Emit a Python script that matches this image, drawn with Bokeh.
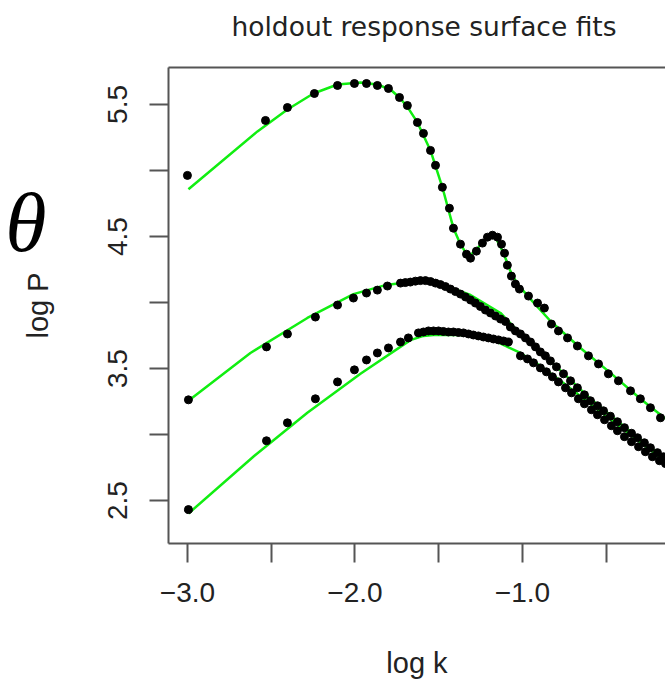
from bokeh.plotting import figure
from bokeh.models import FixedTicker, Range1d, LinearAxis, CustomJSTickFormatter
from bokeh.embed import file_html
from bokeh.resources import INLINE

title_text = "holdout response surface fits"
x_label = "log k"
y_label = "log P"
side_symbol = "θ"

x_major_ticks = [-3.0, -2.0, -1.0]
x_minor_ticks = [-2.5, -1.5, -0.5]
y_major_ticks = [2.5, 3.5, 4.5, 5.5]
y_minor_ticks = [3.0, 4.0, 5.0]

# series A (top) – points
A_x = [-3.000, -2.534, -2.403, -2.242, -2.104, -2.003, -1.931, -1.866, -1.800, -1.734,
       -1.687, -1.627, -1.591, -1.549, -1.519, -1.478, -1.436, -1.412, -1.370, -1.334,
       -1.310, -1.275, -1.239, -1.209, -1.179, -1.149, -1.125, -1.107, -1.090, -1.066,
       -1.042, -1.018, -0.964, -0.910, -0.869, -0.827, -0.785, -0.731, -0.672, -0.606,
       -0.546, -0.487, -0.427, -0.355, -0.296, -0.236, -0.176]
A_y = [4.963, 5.379, 5.477, 5.583, 5.644, 5.659, 5.659, 5.644, 5.621, 5.553,
       5.492, 5.364, 5.281, 5.152, 5.039, 4.873, 4.714, 4.563, 4.442, 4.366,
       4.336, 4.389, 4.450, 4.495, 4.510, 4.495, 4.442, 4.374, 4.283, 4.200,
       4.140, 4.102, 4.049, 3.996, 3.958, 3.837, 3.785, 3.732, 3.671, 3.596,
       3.535, 3.460, 3.407, 3.331, 3.271, 3.203, 3.127]
# series A – fitted surface
Afit_x = [-2.994, -2.582, -2.403, -2.248, -2.104, -1.967, -1.866, -1.788, -1.728, -1.681,
          -1.627, -1.549, -1.478, -1.412, -1.370, -1.322, -1.263, -1.203, -1.155, -1.113,
          -1.072, -1.030, -0.952, -0.833, -0.654, -0.475, -0.296, -0.146]
Afit_y = [4.858, 5.296, 5.462, 5.583, 5.651, 5.666, 5.651, 5.613, 5.545, 5.470,
          5.364, 5.152, 4.873, 4.563, 4.442, 4.344, 4.419, 4.510, 4.480, 4.374,
          4.238, 4.140, 4.026, 3.860, 3.656, 3.467, 3.271, 3.120]

# series B (middle) – points
B_x = [-2.994, -2.528, -2.403, -2.236, -2.104, -2.009, -1.931, -1.866, -1.806, -1.728,
       -1.699, -1.669, -1.639, -1.609, -1.579, -1.549, -1.519, -1.490, -1.460, -1.430,
       -1.400, -1.370, -1.340, -1.310, -1.281, -1.251, -1.221, -1.191, -1.161, -1.131,
       -1.101, -1.072, -1.042, -1.012, -0.982, -0.952, -0.922, -0.893, -0.863, -0.833,
       -0.797, -0.755, -0.713, -0.672, -0.630, -0.594, -0.552, -0.516, -0.475, -0.433,
       -0.391, -0.349, -0.313, -0.272, -0.236, -0.194, -0.158]
B_y = [3.263, 3.664, 3.762, 3.890, 3.981, 4.034, 4.072, 4.094, 4.125, 4.147,
       4.151, 4.155, 4.162, 4.166, 4.166, 4.159, 4.147, 4.136, 4.121, 4.102,
       4.083, 4.064, 4.042, 4.019, 3.996, 3.970, 3.943, 3.921, 3.898, 3.875,
       3.856, 3.815, 3.785, 3.762, 3.732, 3.701, 3.664, 3.626, 3.596, 3.558,
       3.513, 3.460, 3.407, 3.354, 3.301, 3.256, 3.218, 3.180, 3.139, 3.097,
       3.052, 3.010, 2.976, 2.938, 2.900, 2.863, 2.832]
Bfit_x = [-2.994, -2.624, -2.284, -2.009, -1.818, -1.627, -1.490, -1.310, -1.131, -1.012,
          -0.833, -0.594, -0.355, -0.146]
Bfit_y = [3.256, 3.618, 3.883, 4.064, 4.132, 4.162, 4.140, 4.057, 3.921, 3.762,
          3.558, 3.271, 3.021, 2.817]

# series C (bottom) – points
C_x = [-2.994, -2.528, -2.403, -2.236, -2.104, -2.003, -1.931, -1.866, -1.800, -1.728,
       -1.681, -1.621, -1.591, -1.561, -1.531, -1.501, -1.472, -1.442, -1.412, -1.382,
       -1.352, -1.322, -1.293, -1.263, -1.233, -1.203, -1.173, -1.143, -1.113, -1.084,
       -1.012, -0.970, -0.934, -0.893, -0.857, -0.821, -0.785, -0.743, -0.707, -0.666,
       -0.630, -0.588, -0.552, -0.510, -0.469, -0.433, -0.391, -0.349, -0.307, -0.266,
       -0.224, -0.182, -0.146]
C_y = [2.432, 2.953, 3.089, 3.271, 3.399, 3.490, 3.565, 3.618, 3.656, 3.701,
       3.732, 3.770, 3.777, 3.785, 3.785, 3.785, 3.781, 3.777, 3.777, 3.773,
       3.770, 3.762, 3.754, 3.747, 3.739, 3.732, 3.724, 3.717, 3.709, 3.701,
       3.596, 3.573, 3.543, 3.505, 3.475, 3.437, 3.399, 3.354, 3.316, 3.271,
       3.233, 3.188, 3.150, 3.112, 3.067, 3.029, 2.984, 2.946, 2.908, 2.870,
       2.832, 2.802, 2.780]
Cfit_x = [-2.994, -2.600, -2.284, -1.967, -1.669, -1.591, -1.531, -1.370, -1.191, -1.101,
          -1.012, -0.910, -0.773, -0.534, -0.355, -0.146]
Cfit_y = [2.402, 2.840, 3.165, 3.460, 3.715, 3.747, 3.754, 3.754, 3.724, 3.671,
          3.618, 3.535, 3.407, 3.172, 2.999, 2.795]

AX = "#555555"
TXT = "#222222"
SANS = "Liberation Sans"

p = figure(width=665, height=688, output_backend="svg", toolbar_location=None,
           x_range=Range1d(-3.113, -0.146), y_range=Range1d(2.175, 5.78),
           min_border_left=168, min_border_right=0, min_border_top=0,
           min_border_bottom=145, background_fill_color="white",
           border_fill_color="white", outline_line_color=None)
p.grid.visible = False

p.title.text = title_text
p.title.text_font = "DejaVu Sans"
p.title.text_font_size = "26.5px"
p.title.text_font_style = "normal"
p.title.text_color = TXT
p.title.align = "left"
p.title.offset = 63
p.title.standoff = 16

fmt = CustomJSTickFormatter(code="return tick.toFixed(1).replace('-', '\u2212');")

xax = p.below[0]
yax = p.left[0]
for ax in (xax, yax):
    ax.axis_line_color = AX
    ax.axis_line_width = 2
    ax.major_tick_line_color = AX
    ax.minor_tick_line_color = AX
    ax.major_tick_line_width = 2
    ax.minor_tick_line_width = 2
    ax.major_tick_in = 0
    ax.minor_tick_in = 0
    ax.major_tick_out = 19
    ax.minor_tick_out = 19
    ax.major_label_text_font = SANS
    ax.major_label_text_font_size = "28px"
    ax.major_label_text_color = TXT
    ax.axis_label_text_font = SANS
    ax.axis_label_text_font_size = "29px"
    ax.axis_label_text_font_style = "normal"
    ax.axis_label_text_color = TXT
    ax.formatter = fmt

xax.ticker = FixedTicker(ticks=x_major_ticks, minor_ticks=x_minor_ticks)
yax.ticker = FixedTicker(ticks=y_major_ticks, minor_ticks=y_minor_ticks)
xax.axis_label = x_label
yax.axis_label = y_label
xax.major_label_standoff = 20
xax.axis_label_standoff = 42
yax.major_label_standoff = 22
yax.major_label_orientation = "vertical"
yax.axis_label_standoff = 52

# top frame line; a blank axis label keeps the gap between title and frame
top = LinearAxis(ticker=FixedTicker(ticks=[]), axis_line_color=AX, axis_line_width=2,
                 major_tick_line_color=None, minor_tick_line_color=None,
                 major_label_text_font_size="0px", major_label_standoff=0,
                 major_tick_in=0, major_tick_out=0, minor_tick_out=0,
                 axis_label=" ", axis_label_text_font_size="2px",
                 axis_label_standoff=13)
p.add_layout(top, "above")

# outer left guide that carries the large θ symbol beside the panel
theta_ax = LinearAxis(ticker=FixedTicker(ticks=[4.609]), axis_line_color=None,
                      major_tick_line_color=None, minor_tick_line_color=None,
                      major_tick_in=0, major_tick_out=0, minor_tick_out=0,
                      major_label_orientation="horizontal",
                      major_label_standoff=-28,
                      major_label_text_font="Liberation Serif",
                      major_label_text_font_style="italic",
                      major_label_text_font_size="84px",
                      major_label_text_color="black",
                      formatter=CustomJSTickFormatter(
                          args=dict(sym=side_symbol), code="return sym;"))
p.add_layout(theta_ax, "left")

GREEN = "#11ee11"
for fx, fy in ((Afit_x, Afit_y), (Bfit_x, Bfit_y), (Cfit_x, Cfit_y)):
    p.line(fx, fy, line_color=GREEN, line_width=2.5)
for sx, sy in ((A_x, A_y), (B_x, B_y), (C_x, C_y)):
    p.scatter(sx, sy, size=8, color="black")

open("out.html", "w").write(file_html(p, INLINE))
